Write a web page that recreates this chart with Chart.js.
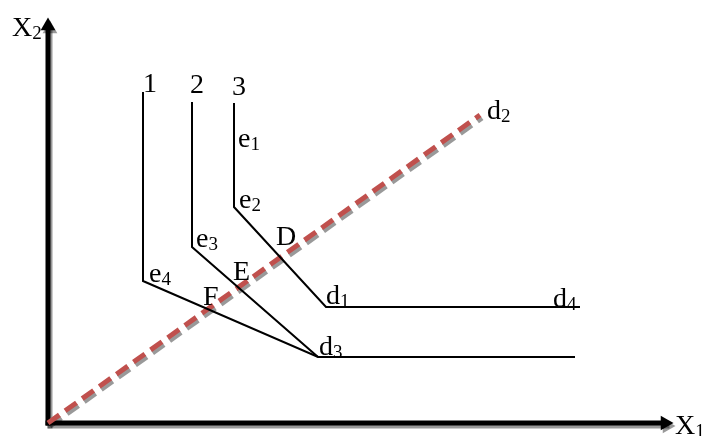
<!DOCTYPE html>
<html>
<head>
<meta charset="utf-8">
<script src="https://cdn.jsdelivr.net/npm/chart.js@4/dist/chart.umd.min.js"></script>
<style>
html, body { margin: 0; padding: 0; background: #fff; }
#wrap { width: 703px; height: 436px; }
</style>
</head>
<body>
<div id="wrap"><canvas id="myChart"></canvas></div>
<script>
// eksenler (ucu ok olan)
const axisX1 = [0, 617], axisY1 = [0, 0];
const axisX2 = [0, 0], axisY2 = [0, 397];

// izokantlar 1, 2, 3
const line1X = [95, 95, 270, 527], line1Y = [331, 142, 66, 66];
const line2X = [144, 144, 270],    line2Y = [321, 176, 66];
const line3X = [186, 186, 278, 532], line3Y = [320, 216, 116, 116];

// orijinden d2'ye kesikli ışın
const rayX = [0, 432], rayY = [0, 308];

// etiketler
const labelMain = ['1', '2', '3', 'e', 'e', 'e', 'e', 'D', 'E', 'F', 'd', 'd', 'd', 'd', 'X', 'X'];
const labelSub  = ['',  '',  '',  '1', '2', '3', '4', '',  '',  '',  '1', '4', '3', '2', '2', '1'];
const labelX    = [95, 142, 184, 190, 191, 148, 101, 228, 185, 155, 278, 505, 271, 439, -36, 627];
const labelY    = [331, 330, 328, 276, 215, 176, 141, 178, 143, 118, 119, 116, 68, 304, 387, -11];

const pts = (xs, ys) => xs.map((x, i) => ({ x: x, y: ys[i] }));

const shadowPlugin = {
    id: 'shadow',
    beforeDatasetDraw(chart, args) {
        const ds = chart.data.datasets[args.index];
        if (!ds.shadow) return;
        const ctx = chart.ctx;
        ctx.save();
        ctx.shadowColor = 'rgba(0,0,0,0.4)';
        ctx.shadowBlur = 0;
        ctx.shadowOffsetX = 2;
        ctx.shadowOffsetY = 3;
    },
    afterDatasetDraw(chart, args) {
        if (chart.data.datasets[args.index].shadow) chart.ctx.restore();
    }
};

const labelPlugin = {
    id: 'labels',
    afterDatasetsDraw(chart) {
        const ctx = chart.ctx, xs = chart.scales.x, ys = chart.scales.y;
        ctx.save();
        ctx.fillStyle = '#000';
        ctx.textAlign = 'left';
        ctx.textBaseline = 'alphabetic';
        labelMain.forEach((t, i) => {
            const px = xs.getPixelForValue(labelX[i]);
            const py = ys.getPixelForValue(labelY[i]);
            ctx.font = '28px "Liberation Serif"';
            ctx.fillText(t, px, py);
            if (labelSub[i]) {
                const w = ctx.measureText(t).width;
                ctx.font = '19px "Liberation Serif"';
                ctx.fillText(labelSub[i], px + w, py + 3);
            }
        });
        ctx.restore();
    }
};

const lineStyle = { showLine: true, borderColor: '#000', borderWidth: 2, pointRadius: 0, clip: false, fill: false };

new Chart(document.getElementById('myChart'), {
    type: 'scatter',
    data: {
        datasets: [
            Object.assign({}, lineStyle, { data: pts(line1X, line1Y) }),
            Object.assign({}, lineStyle, { data: pts(line2X, line2Y) }),
            Object.assign({}, lineStyle, { data: pts(line3X, line3Y) }),
            {
                data: pts(rayX, rayY), showLine: true, shadow: true, clip: false,
                borderColor: '#c0504d', borderWidth: 5, borderDash: [14, 7], pointRadius: 0
            },
            {
                data: pts(axisX1, axisY1), showLine: true, shadow: true, clip: false,
                borderColor: '#000', borderWidth: 5, borderCapStyle: 'square',
                pointStyle: 'triangle', pointRadius: [0, 8.5], rotation: 90,
                pointBackgroundColor: '#000', pointBorderWidth: 0
            },
            {
                data: pts(axisX2, axisY2), showLine: true, shadow: true, clip: false,
                borderColor: '#000', borderWidth: 5, borderCapStyle: 'square',
                pointStyle: 'triangle', pointRadius: [0, 8.5], rotation: 0,
                pointBackgroundColor: '#000', pointBorderWidth: 0
            }
        ]
    },
    options: {
        responsive: true,
        maintainAspectRatio: false,
        animation: false,
        events: [],
        layout: { padding: { left: 48, right: 15, top: 15, bottom: 13 } },
        scales: {
            x: { type: 'linear', min: 0, max: 640, display: false },
            y: { type: 'linear', min: 0, max: 408, display: false }
        },
        plugins: { legend: { display: false }, tooltip: { enabled: false } }
    },
    plugins: [shadowPlugin, labelPlugin]
});
</script>
</body>
</html>
